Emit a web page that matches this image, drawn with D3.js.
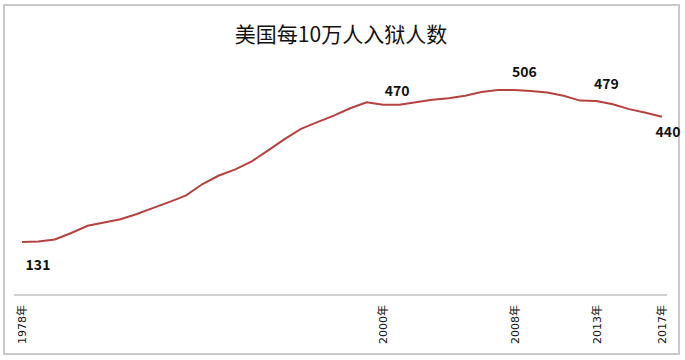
<!DOCTYPE html>
<html>
<head>
<meta charset="utf-8">
<script src="https://cdn.jsdelivr.net/npm/d3@7/dist/d3.min.js"></script>
<style>
  body { margin: 0; background: #fff; }
  text { font-family: "Noto Sans CJK SC", "Noto Sans", sans-serif; }
</style>
</head>
<body>
<div id="chart"></div>
<script>
const canvas = { w: 685, h: 360 };

// 年份与每10万人入狱人数
const years = d3.range(1978, 2018);
const rates = [131, 132, 137, 153, 171, 179, 187, 200, 215, 230, 246, 274, 295, 310, 330, 357, 385, 410, 427, 443,
               461, 476, 470, 470, 476, 482, 486, 492, 501, 506, 506, 504, 500, 492, 480, 479, 471, 459, 450, 440];
const tickYears = [1978, 2000, 2008, 2013, 2017];
const labelYears = [1978, 2000, 2008, 2013, 2017];
const title = "美国每10万人入狱人数";

const data = years.map((y, i) => ({ year: y, value: rates[i] }));

const x = d3.scaleLinear().domain([1978, 2017]).range([22, 662]);
const y = d3.scaleLinear().domain([0, 600]).range([295, 52]);

const svg = d3.select("#chart")
    .append("svg")
    .attr("width", canvas.w)
    .attr("height", canvas.h);

// 外框
svg.append("rect")
    .attr("x", 4).attr("y", 5)
    .attr("width", 675).attr("height", 349)
    .attr("fill", "#fff")
    .attr("stroke", "#c9c9c9")
    .attr("stroke-width", 2);

svg.append("text")
    .attr("x", 341).attr("y", 42)
    .attr("text-anchor", "middle")
    .attr("font-size", 21)
    .attr("fill", "#111")
    .text(title);

// x轴
const xAxis = d3.axisBottom(x)
    .tickValues(tickYears)
    .tickSize(0)
    .tickFormat(d => d + "年");

const gx = svg.append("g")
    .attr("transform", "translate(0,295)")
    .call(xAxis);

gx.select(".domain")
    .attr("d", "M14,0H667")
    .attr("stroke", "#d0d0d0")
    .attr("stroke-width", 2);

gx.selectAll(".tick text")
    .attr("transform", "rotate(-90)")
    .attr("x", -10).attr("y", 0).attr("dy", "0.35em")
    .attr("text-anchor", "end")
    .style("font-size", "11px")
    .style("font-family", "'DejaVu Sans', 'Noto Sans CJK SC', sans-serif")
    .attr("fill", "#111");

const line = d3.line()
    .x(d => x(d.year))
    .y(d => y(d.value));

svg.append("path")
    .datum(data)
    .attr("d", line)
    .attr("fill", "none")
    .attr("stroke", "#b5423f")
    .attr("stroke-width", 2);

// 数据标签
const offsets = { 1978: [16, 28], 2000: [14, -9], 2008: [10, -13], 2013: [10, -12], 2017: [6, 20] };

svg.selectAll(".lbl")
    .data(data.filter(d => labelYears.includes(d.year)))
    .join("text")
    .attr("class", "lbl")
    .attr("x", d => x(d.year) + offsets[d.year][0])
    .attr("y", d => y(d.value) + offsets[d.year][1])
    .attr("text-anchor", "middle")
    .attr("font-size", 14)
    .attr("font-weight", "bold")
    .attr("fill", "#111")
    .text(d => d.value);
</script>
</body>
</html>
